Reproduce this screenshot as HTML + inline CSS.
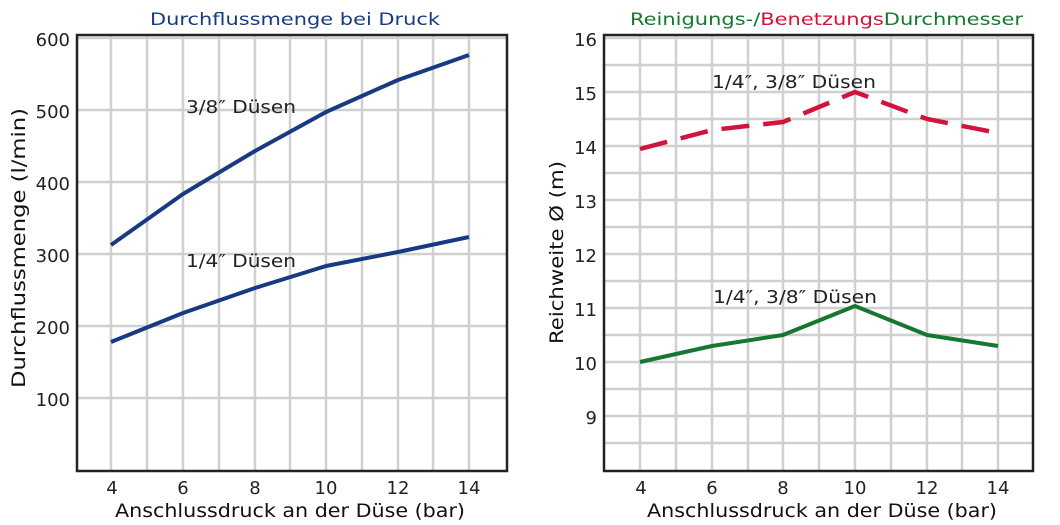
<!DOCTYPE html>
<html><head><meta charset="utf-8"><style>
html,body{margin:0;padding:0;background:#fff;}
svg{display:block;}
text{font-family:"DejaVu Sans","Liberation Sans",sans-serif;}
</style></head><body>
<svg width="1060" height="525" viewBox="0 0 1060 525" xmlns="http://www.w3.org/2000/svg">
<rect width="1060" height="525" fill="#fff"/>
<!-- LEFT CHART -->
<g stroke="#d0d0d0" stroke-width="2.5">
<line x1="111" y1="35" x2="111" y2="471"/><line x1="147" y1="35" x2="147" y2="471"/>
<line x1="183" y1="35" x2="183" y2="471"/><line x1="219" y1="35" x2="219" y2="471"/>
<line x1="255" y1="35" x2="255" y2="471"/><line x1="290" y1="35" x2="290" y2="471"/>
<line x1="326" y1="35" x2="326" y2="471"/><line x1="362" y1="35" x2="362" y2="471"/>
<line x1="398" y1="35" x2="398" y2="471"/><line x1="433" y1="35" x2="433" y2="471"/>
<line x1="469" y1="35" x2="469" y2="471"/>
<line x1="77" y1="38" x2="507" y2="38"/><line x1="77" y1="110" x2="507" y2="110"/>
<line x1="77" y1="182" x2="507" y2="182"/><line x1="77" y1="254" x2="507" y2="254"/>
<line x1="77" y1="326" x2="507" y2="326"/><line x1="77" y1="398" x2="507" y2="398"/>
</g>
<rect x="77" y="35" width="430" height="436" fill="none" stroke="#222" stroke-width="2.5"/>
<g fill="none" stroke="#173a80" stroke-width="4" stroke-linejoin="round">
<polyline points="111,245 183,194 255,151 326,112 398,80 469,55"/>
<polyline points="111,342 183,313 255,288 326,266 398,252 469,237"/>
</g>
<g font-size="18" fill="#222">
<text x="186" y="113" textLength="110" lengthAdjust="spacingAndGlyphs">3/8″ Düsen</text>
<text x="186" y="267" textLength="110" lengthAdjust="spacingAndGlyphs">1/4″ Düsen</text>
</g>
<g font-size="18" fill="#222" text-anchor="end">
<text x="70" y="46">600</text><text x="70" y="118">500</text><text x="70" y="190">400</text>
<text x="70" y="262">300</text><text x="70" y="334">200</text><text x="70" y="406">100</text>
</g>
<g font-size="18" fill="#222" text-anchor="middle">
<text x="112" y="494">4</text><text x="183" y="494">6</text><text x="255" y="494">8</text>
<text x="326" y="494">10</text><text x="398" y="494">12</text><text x="469" y="494">14</text>
</g>
<text x="115" y="517" font-size="19" fill="#111" textLength="350" lengthAdjust="spacingAndGlyphs">Anschlussdruck an der Düse (bar)</text>
<text transform="translate(25,388) rotate(-90)" font-size="19" fill="#111" textLength="280" lengthAdjust="spacingAndGlyphs">Durchflussmenge (l/min)</text>
<text x="150" y="25" font-size="17" fill="#173a80" textLength="290" lengthAdjust="spacingAndGlyphs">Durchflussmenge bei Druck</text>

<!-- RIGHT CHART -->
<g stroke="#d0d0d0" stroke-width="2.5">
<line x1="640" y1="35" x2="640" y2="471"/><line x1="676" y1="35" x2="676" y2="471"/>
<line x1="712" y1="35" x2="712" y2="471"/><line x1="748" y1="35" x2="748" y2="471"/>
<line x1="783" y1="35" x2="783" y2="471"/><line x1="819" y1="35" x2="819" y2="471"/>
<line x1="855" y1="35" x2="855" y2="471"/><line x1="891" y1="35" x2="891" y2="471"/>
<line x1="927" y1="35" x2="927" y2="471"/><line x1="962" y1="35" x2="962" y2="471"/>
<line x1="998" y1="35" x2="998" y2="471"/>
<line x1="604" y1="38" x2="1033" y2="38"/><line x1="604" y1="65" x2="1033" y2="65"/>
<line x1="604" y1="92" x2="1033" y2="92"/><line x1="604" y1="119" x2="1033" y2="119"/>
<line x1="604" y1="146" x2="1033" y2="146"/><line x1="604" y1="173" x2="1033" y2="173"/>
<line x1="604" y1="200" x2="1033" y2="200"/><line x1="604" y1="227" x2="1033" y2="227"/>
<line x1="604" y1="254" x2="1033" y2="254"/><line x1="604" y1="281" x2="1033" y2="281"/>
<line x1="604" y1="308" x2="1033" y2="308"/><line x1="604" y1="335" x2="1033" y2="335"/>
<line x1="604" y1="362" x2="1033" y2="362"/><line x1="604" y1="389" x2="1033" y2="389"/>
<line x1="604" y1="416" x2="1033" y2="416"/><line x1="604" y1="443" x2="1033" y2="443"/>
</g>
<rect x="604" y="35" width="429" height="436" fill="none" stroke="#222" stroke-width="2.5"/>
<polyline points="640,149 712,130 783,122 855,92 927,119 998,133" fill="none" stroke="#d0143c" stroke-width="4.5" stroke-dasharray="28,14"/>
<polyline points="640,362 712,346 783,335 855,306 927,335 998,346" fill="none" stroke="#16782e" stroke-width="4" stroke-linejoin="round"/>
<g font-size="18" fill="#222">
<text x="712" y="88" textLength="164" lengthAdjust="spacingAndGlyphs">1/4″, 3/8″ Düsen</text>
<text x="713" y="303" textLength="164" lengthAdjust="spacingAndGlyphs">1/4″, 3/8″ Düsen</text>
</g>
<g font-size="18" fill="#222" text-anchor="end">
<text x="597" y="46">16</text><text x="597" y="100">15</text><text x="597" y="154">14</text>
<text x="597" y="208">13</text><text x="597" y="262">12</text><text x="597" y="316">11</text>
<text x="597" y="370">10</text><text x="597" y="424">9</text>
</g>
<g font-size="18" fill="#222" text-anchor="middle">
<text x="641" y="494">4</text><text x="712" y="494">6</text><text x="783" y="494">8</text>
<text x="855" y="494">10</text><text x="927" y="494">12</text><text x="998" y="494">14</text>
</g>
<text x="647" y="517" font-size="19" fill="#111" textLength="350" lengthAdjust="spacingAndGlyphs">Anschlussdruck an der Düse (bar)</text>
<text transform="translate(563,344) rotate(-90)" font-size="19" fill="#111" textLength="183" lengthAdjust="spacingAndGlyphs">Reichweite Ø (m)</text>
<text x="630" y="25" font-size="17" textLength="393" lengthAdjust="spacingAndGlyphs"><tspan fill="#16782e">Reinigungs-/</tspan><tspan fill="#d0143c">Benetzungs</tspan><tspan fill="#16782e">Durchmesser</tspan></text>
</svg>
</body></html>
